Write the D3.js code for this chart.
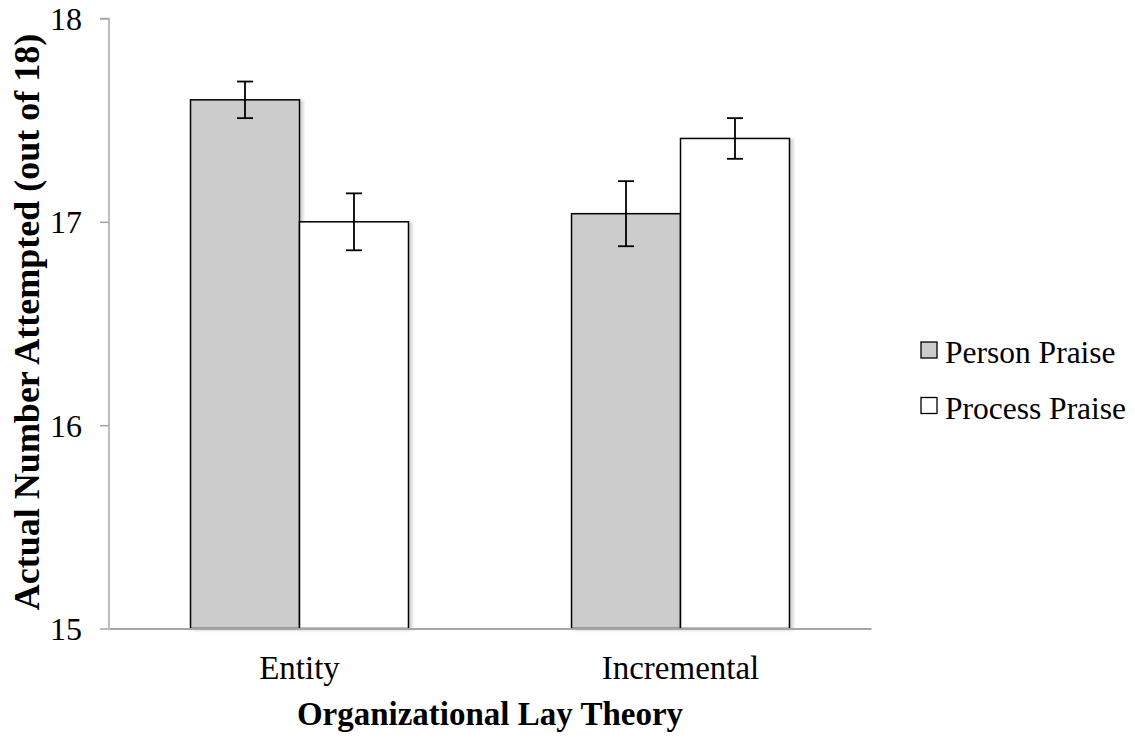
<!DOCTYPE html>
<html lang="en">
  <head>
    <meta charset="utf-8" />
    <title>Organizational Lay Theory bar chart</title>
    <script src="https://cdnjs.cloudflare.com/ajax/libs/d3/7.8.5/d3.min.js"></script>
    <style type="text/css">
      body { margin: 0; background: #fff; }
      text { font-family: "Liberation Serif", "Times New Roman", serif; fill: #000; }
    </style>
  </head>

  <body>
    <div id="chart"></div>
    <script>
      const categories = ['Entity', 'Incremental'];
      const series = ['Person Praise', 'Process Praise'];
      const personValues = [17.60, 17.04];
      const processValues = [17.00, 17.41];
      const personErr = [0.09, 0.16];
      const processErr = [0.14, 0.10];
      const yTicks = [15, 16, 17, 18];
      const colors = ['#cccccc', '#ffffff'];

      const rows = categories.map((c, i) => ({
        category: c,
        bars: [
          { series: series[0], value: personValues[i], err: personErr[i] },
          { series: series[1], value: processValues[i], err: processErr[i] },
        ],
      }));

      const width = 1135, height = 738;

      const svg = d3.select('#chart')
        .append('svg')
        .attr('width', width)
        .attr('height', height);

      // soft shadow like the office chart
      const defs = svg.append('defs');
      const f = defs.append('filter').attr('id', 'shadow')
        .attr('x', '-10%').attr('y', '-10%').attr('width', '130%').attr('height', '130%');
      f.append('feDropShadow')
        .attr('dx', 3).attr('dy', 1).attr('stdDeviation', 1.5)
        .attr('flood-color', '#000').attr('flood-opacity', 0.18);

      const y = d3.scaleLinear().domain([15, 18]).range([628.5, 18.5]);
      const x = d3.scaleBand().domain(categories).range([109, 871]);
      const xs = d3.scaleBand().domain(series).range([0, x.bandwidth()]).paddingOuter(0.748);

      const groups = svg.selectAll('g.group')
        .data(rows)
        .join('g')
        .attr('class', 'group')
        .attr('transform', d => `translate(${x(d.category)},0)`);

      groups.selectAll('rect')
        .data(d => d.bars)
        .join('rect')
        .attr('x', d => xs(d.series))
        .attr('y', d => y(d.value))
        .attr('width', xs.bandwidth())
        .attr('height', d => y(15) - y(d.value))
        .attr('fill', (d, i) => colors[i])
        .attr('stroke', '#000')
        .attr('stroke-width', 1.5)
        .attr('filter', 'url(#shadow)');

      // error bars
      const eb = groups.selectAll('g.err')
        .data(d => d.bars)
        .join('g')
        .attr('class', 'err')
        .attr('stroke', '#000')
        .attr('stroke-width', 1.8);
      const cx = d => xs(d.series) + xs.bandwidth() / 2;
      eb.append('line')
        .attr('x1', cx).attr('x2', cx)
        .attr('y1', d => y(d.value + d.err))
        .attr('y2', d => y(d.value - d.err));
      eb.append('line')
        .attr('x1', d => cx(d) - 8).attr('x2', d => cx(d) + 8)
        .attr('y1', d => y(d.value + d.err)).attr('y2', d => y(d.value + d.err));
      eb.append('line')
        .attr('x1', d => cx(d) - 8).attr('x2', d => cx(d) + 8)
        .attr('y1', d => y(d.value - d.err)).attr('y2', d => y(d.value - d.err));

      // y axis
      const yAxis = svg.append('g')
        .attr('transform', 'translate(109,0)')
        .call(d3.axisLeft(y).tickValues(yTicks).tickFormat(d3.format('d')).tickSize(9).tickPadding(18));
      yAxis.select('.domain').attr('stroke', '#a6a6a6').attr('stroke-width', 1.5)
        .attr('d', `M-9,${y(18)}H0V${y(15)}`);
      yAxis.selectAll('.tick line').attr('stroke', '#a6a6a6').attr('stroke-width', 1.5);
      yAxis.selectAll('.tick text')
        .style('font-family', '"Liberation Serif", serif')
        .style('font-size', '32px')
        .attr('dy', '0.34em');

      // x axis
      const xAxis = svg.append('g')
        .attr('transform', `translate(0,${y(15)})`)
        .call(d3.axisBottom(x).tickSize(0).tickPadding(27));
      xAxis.select('.domain').attr('stroke', '#a6a6a6').attr('stroke-width', 2);
      xAxis.selectAll('.tick text')
        .style('font-family', '"Liberation Serif", serif')
        .style('font-size', '33px')
        .attr('dy', '0.71em');

      // axis titles
      svg.append('text')
        .attr('x', 490)
        .attr('y', 725)
        .attr('text-anchor', 'middle')
        .style('font-size', '33px')
        .style('font-weight', 'bold')
        .text('Organizational Lay Theory');

      svg.append('text')
        .attr('transform', 'translate(39,322) rotate(-90)')
        .attr('text-anchor', 'middle')
        .style('font-size', '36px')
        .style('font-weight', 'bold')
        .text('Actual Number Attempted (out of 18)');

      // legend
      const legend = svg.selectAll('g.legend')
        .data(series)
        .join('g')
        .attr('class', 'legend')
        .attr('transform', (d, i) => `translate(921,${342 + i * 55.5})`);
      legend.append('rect')
        .attr('width', 16).attr('height', 16)
        .attr('fill', (d, i) => colors[i])
        .attr('stroke', '#000')
        .attr('stroke-width', 1.3);
      legend.append('text')
        .attr('x', 24)
        .attr('y', 21)
        .style('font-size', '31.5px')
        .text(d => d);
    </script>
  </body>
</html>
